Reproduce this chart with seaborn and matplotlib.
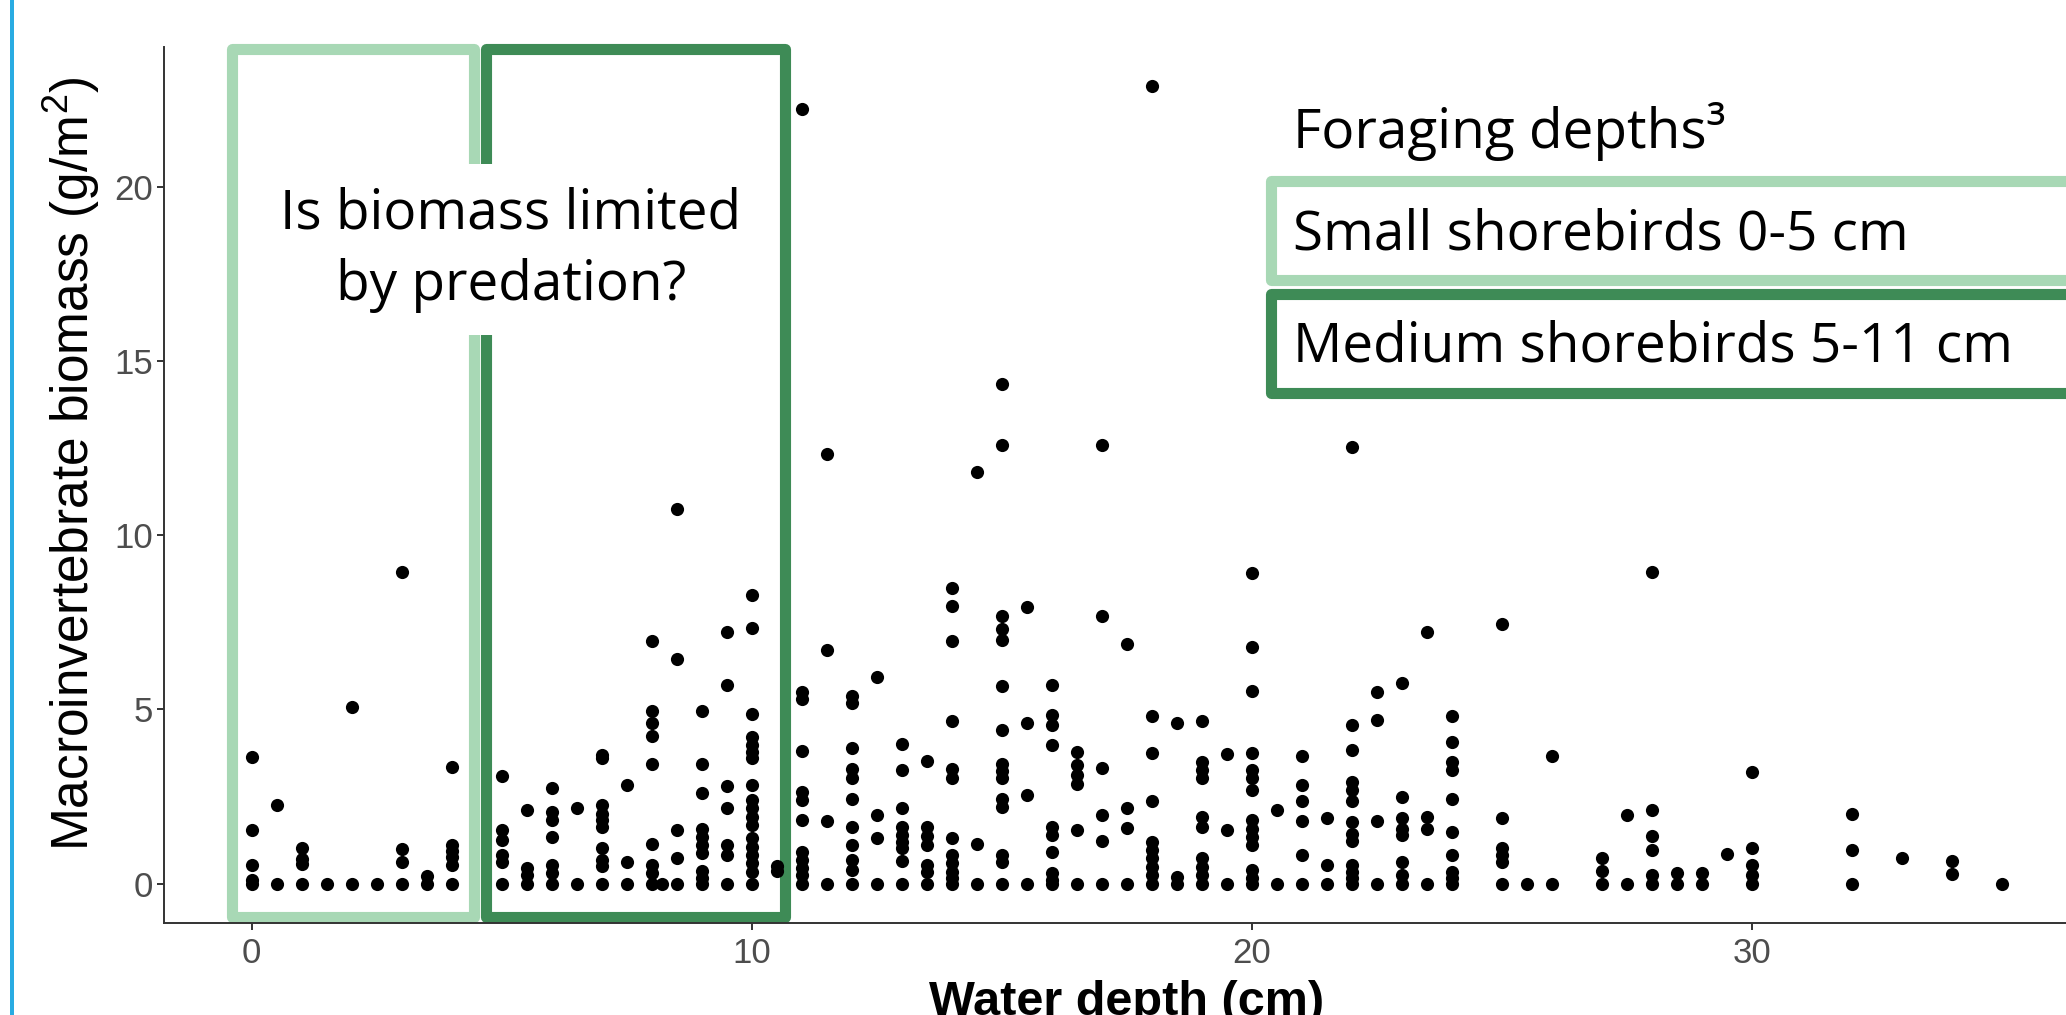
"""
Macroinvertebrate biomass vs water depth, with shorebird foraging-depth boxes
"""

import numpy as np
import pandas as pd
import matplotlib
matplotlib.use('Agg')  # Non-interactive backend
import matplotlib.pyplot as plt
import seaborn as sns
from matplotlib.patches import Rectangle

# Data: one entry per sampled water depth (cm), biomass values (g/m2) in that column
depths = [0, 0.5, 1, 1.5, 2, 2.5, 3, 3.5, 4, 5, 5.5, 6, 6.5, 7, 7.5, 8, 8.2, 8.5, 9, 9.5,
          10, 10.5, 11, 11.5, 12, 12.5, 13, 13.5, 14, 14.5, 15, 15.5, 16, 16.5, 17, 17.5,
          18, 18.5, 19, 19.5, 20, 20.5, 21, 21.5, 22, 22.5, 23, 23.5, 24, 25, 25.5, 26,
          27, 27.5, 28, 28.5, 29, 29.5, 30, 32, 33, 34, 35]

biomass = [
    [3.63, 1.54, 0.53, 0.1, 0],                       # 0
    [2.27, 0],                                        # 0.5
    [1.03, 0.7, 0.55, 0],                             # 1
    [0],                                              # 1.5
    [5.06, 0],                                        # 2
    [0],                                              # 2.5
    [8.95, 0.99, 0.63, 0],                            # 3
    [0.23, 0],                                        # 3.5
    [3.36, 1.11, 0.93, 0.75, 0.53, 0],                # 4
    [3.09, 1.54, 1.25, 0.82, 0.63, 0],                # 5
    [2.1, 0.44, 0.25, 0],                             # 5.5
    [2.75, 2.06, 1.82, 1.35, 0.53, 0.3, 0],           # 6
    [2.18, 0],                                        # 6.5
    [3.7, 3.6, 2.25, 2.0, 1.82, 1.63, 1.03, 0.68, 0.5, 0],  # 7
    [2.84, 0.63, 0],                                  # 7.5
    [6.98, 4.97, 4.62, 4.24, 3.44, 1.13, 0.53, 0.3, 0],     # 8
    [0],                                              # 8.2
    [10.75, 6.45, 1.54, 0.73, 0],                     # 8.5
    [4.97, 3.44, 2.59, 1.58, 1.35, 1.11, 0.87, 0.35, 0.15, 0],  # 9
    [7.23, 5.71, 2.81, 2.18, 1.11, 0.82, 0],          # 9.5
    [8.3, 7.33, 4.88, 4.21, 3.97, 3.78, 3.6, 2.84, 2.4, 2.16, 1.92, 1.68,
     1.3, 1.06, 0.82, 0.58, 0.34, 0],                 # 10
    [0.5, 0.35],                                      # 10.5
    [22.24, 5.5, 5.3, 3.8, 2.63, 2.4, 1.82, 0.92, 0.68, 0.44, 0.25, 0],  # 11
    [12.34, 6.72, 1.79, 0],                           # 11.5
    [5.4, 5.19, 3.89, 3.3, 3.02, 2.44, 1.63, 1.11, 0.68, 0.39, 0],  # 12
    [5.93, 1.97, 1.32, 0],                            # 12.5
    [4.02, 3.25, 2.18, 1.63, 1.39, 1.2, 1.01, 0.65, 0],     # 13
    [3.53, 1.63, 1.37, 1.11, 0.53, 0.34, 0],          # 13.5
    [8.49, 7.98, 6.98, 4.67, 3.3, 3.02, 1.32, 0.82, 0.58, 0.34, 0.15, 0],  # 14
    [11.82, 1.15, 0],                                 # 14.5
    [14.35, 12.6, 7.69, 7.3, 7.0, 5.67, 4.4, 3.44, 3.23, 3.02, 2.44, 2.2,
     0.82, 0.63, 0],                                  # 15
    [7.93, 4.6, 2.54, 0],                             # 15.5
    [5.71, 4.85, 4.54, 3.97, 1.63, 1.39, 0.9, 0.3, 0.1, 0],  # 16
    [3.78, 3.4, 3.11, 2.87, 1.54, 0],                 # 16.5
    [12.6, 7.69, 3.32, 1.97, 1.22, 0],                # 17
    [6.88, 2.16, 1.6, 0],                             # 17.5
    [22.89, 4.81, 3.76, 2.37, 1.2, 0.96, 0.73, 0.49, 0.25, 0],  # 18
    [4.62, 0.2, 0],                                   # 18.5
    [4.66, 3.49, 3.25, 3.03, 1.92, 1.63, 0.73, 0.49, 0.25, 0],  # 19
    [3.71, 1.54, 0],                                  # 19.5
    [8.92, 6.78, 5.54, 3.76, 3.25, 3.02, 2.68, 1.82, 1.58, 1.35, 1.11,
     0.39, 0.15, 0],                                  # 20
    [2.1, 0],                                         # 20.5
    [3.66, 2.84, 2.37, 1.79, 0.82, 0],                # 21
    [1.89, 0.53, 0],                                  # 21.5
    [12.53, 4.54, 3.85, 2.92, 2.68, 2.37, 1.77, 1.41, 1.22, 0.53, 0.34, 0.15, 0],  # 22
    [5.5, 4.71, 1.79, 0],                             # 22.5
    [5.76, 2.49, 1.87, 1.58, 1.39, 0.63, 0.25, 0],    # 23
    [7.23, 1.92, 1.58, 0],                            # 23.5
    [4.81, 4.06, 3.49, 3.25, 2.44, 1.49, 0.82, 0.34, 0.15, 0],  # 24
    [7.45, 1.89, 1.03, 0.82, 0.61, 0],                # 25
    [0],                                              # 25.5
    [3.66, 0],                                        # 26
    [0.73, 0.36, 0],                                  # 27
    [1.97, 0],                                        # 27.5
    [8.95, 2.1, 1.37, 0.96, 0.25, 0],                 # 28
    [0.3, 0],                                         # 28.5
    [0.3, 0],                                         # 29
    [0.84],                                           # 29.5
    [3.19, 1.01, 0.53, 0.25, 0],                      # 30
    [2.01, 0.96, 0],                                  # 32
    [0.74],                                           # 33
    [0.66, 0.27],                                     # 34
    [0],                                              # 35
]

x_ticks = [0, 10, 20, 30]
y_ticks = [0, 5, 10, 15, 20]

question_text = 'Is biomass limited\nby predation?'
legend_title = 'Foraging depths³'
legend_labels = ['Small shorebirds 0-5 cm', 'Medium shorebirds 5-11 cm']

# Colours
LIGHT_GREEN = '#A8D8B5'
DARK_GREEN = '#3E8B56'
SLIDE_BLUE = '#29ABE2'

df = pd.DataFrame({
    'depth': [d for d, vals in zip(depths, biomass) for _ in vals],
    'biomass': [v for vals in biomass for v in vals],
})

# Style
sns.set_theme(style='ticks')
plt.rcParams['font.family'] = ['Liberation Sans', 'DejaVu Sans']
plt.rcParams['mathtext.fontset'] = 'custom'
plt.rcParams['mathtext.rm'] = 'Liberation Sans'
plt.rcParams['text.color'] = 'black'
SLIDE_FONT = ['Open Sans', 'DejaVu Sans']

fig = plt.figure(figsize=(20.66, 10.15), dpi=100)
# panel runs past the right edge (slide crop)
ax = fig.add_axes([0.0795, 0.0902, 0.9318, 0.8639])

sns.scatterplot(data=df, x='depth', y='biomass', color='black', s=90,
                linewidth=0, ax=ax, zorder=4)

# ggplot-like 5% expansion
xpad = 0.05 * (df['depth'].max() - df['depth'].min())
ypad = 0.05 * (df['biomass'].max() - df['biomass'].min())
ax.set_xlim(df['depth'].min() - xpad, df['depth'].max() + xpad)
ax.set_ylim(df['biomass'].min() - ypad, df['biomass'].max() + ypad)

sns.despine(ax=ax)
for side in ['left', 'bottom']:
    ax.spines[side].set_color('#333333')
    ax.spines[side].set_linewidth(1.4)

ax.set_xticks(x_ticks)
ax.set_yticks(y_ticks)
ax.tick_params(axis='both', length=5, width=1.4, color='#333333',
               labelcolor='#4D4D4D', labelsize=25)
ax.tick_params(axis='x', pad=4.5)
ax.tick_params(axis='y', pad=3)

ax.set_xlabel('Water depth (cm)', fontsize=35, fontweight='bold', color='black')
ax.xaxis.set_label_coords(0.5, -0.0644)
ax.set_ylabel(r'Macroinvertebrate biomass (g/m$^\mathregular{2}$)', fontsize=37, color='black')
ax.yaxis.set_label_coords(-0.0324, 0.524)

# Foraging depth boxes over the plot
box_bottom, box_top = -0.96, 23.97
for (x0, x1), col in zip([(-0.4, 4.45), (4.69, 10.66)], [LIGHT_GREEN, DARK_GREEN]):
    ax.add_patch(Rectangle((x0, box_bottom), x1 - x0, box_top - box_bottom,
                           fill=False, edgecolor=col, lw=8, joinstyle='round',
                           clip_on=False, zorder=2))

ax.text(5.18, 18.2, question_text, ha='center', va='center', multialignment='center',
        fontsize=39.5, family=SLIDE_FONT, linespacing=1.4, color='black', zorder=3,
        bbox=dict(boxstyle='square,pad=0.4', facecolor='white', edgecolor='none'))

# Legend boxes (right side, running off the slide)
ax.text(20.82, 21.13, legend_title, ha='left', va='baseline', fontsize=39.5,
        family=SLIDE_FONT, color='black', zorder=5)
legend_rows = [(17.32, 20.17, LIGHT_GREEN), (14.09, 16.92, DARK_GREEN)]
for (y0, y1, col), label in zip(legend_rows, legend_labels):
    ax.add_patch(Rectangle((20.39, y0), 30, y1 - y0, facecolor='white', edgecolor=col,
                           lw=8, joinstyle='round', clip_on=False, zorder=5))
    ax.text(20.82, y0 + 0.9, label, ha='left', va='baseline', fontsize=39.5,
            family=SLIDE_FONT, color='black', zorder=6)

# blue slide accent on the far left
fig.add_artist(Rectangle((9.8 / 2066, 0), 4.5 / 2066, 1, transform=fig.transFigure,
                         facecolor=SLIDE_BLUE, edgecolor='none'))

fig.savefig('out.png', dpi=100)
print("saved out.png")
